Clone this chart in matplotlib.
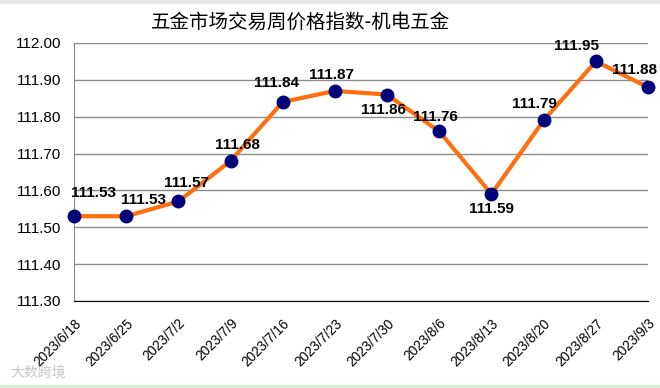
import matplotlib.pyplot as plt
from matplotlib.patches import Rectangle

# data
dates = ["2023/6/18", "2023/6/25", "2023/7/2", "2023/7/9", "2023/7/16", "2023/7/23",
         "2023/7/30", "2023/8/6", "2023/8/13", "2023/8/20", "2023/8/27", "2023/9/3"]
index_values = [111.53, 111.53, 111.57, 111.68, 111.84, 111.87,
                111.86, 111.76, 111.59, 111.79, 111.95, 111.88]
yticks = [111.30, 111.40, 111.50, 111.60, 111.70, 111.80, 111.90, 112.00]

# label offsets (pixels) for each point
label_offsets = [(20, 23), (17, 16), (8, 18), (7, 16), (-6, 19), (-3, 16),
                 (-4, -15), (-4, 14), (0, -15), (-9, 16), (-19, 15), (-14, 17)]

plt.rcParams['font.family'] = ['Liberation Sans', 'DejaVu Sans']

fig = plt.figure(figsize=(6.6, 3.88), dpi=100)
ax = fig.add_axes([74/660, 1 - 301/388, (648-74)/660, (301-43)/388])

x = list(range(len(dates)))
ax.plot(x, index_values, color='#ff6f0f', lw=3, zorder=3, clip_on=False,
        marker='o', markersize=9, markerfacecolor='#00007a', markeredgecolor='#00007a')

for i, v in enumerate(index_values):
    dx, dy = label_offsets[i]
    ax.annotate(f"{v:.2f}", (x[i], v), xytext=(dx, dy), textcoords='offset pixels',
                ha='center', va='center', fontsize=11, fontweight='bold', zorder=4)

ax.set_xlim(0, len(dates) - 1)
ax.set_ylim(111.30, 112.00)
ax.set_yticks(yticks)
ax.set_yticklabels([f"{t:.2f}" for t in yticks], fontsize=11)
ax.yaxis.grid(True, color='#8c8c8c', lw=1)
ax.set_axisbelow(True)
ax.tick_params(axis='y', length=0, pad=9)
ax.tick_params(axis='x', length=0, pad=11)
ax.set_xticks(x)
ax.set_xticklabels(dates, rotation=45, ha='right', rotation_mode='anchor', fontsize=9.8)

for s in ['top', 'right']:
    ax.spines[s].set_visible(False)
ax.spines['left'].set_color('#8c8c8c')
ax.spines['bottom'].set_color('black')

fig.text(301/660, 1 - 22/388, "五金市场交易周价格指数-机电五金", ha='center', va='center',
         fontsize=14, family=['Noto Sans CJK SC', 'DejaVu Sans'])

# frame bits of the screenshot
fig.patches.append(Rectangle((0, 1 - 3/388), 1, 3/388, transform=fig.transFigure,
                             color='#e6e8e6', zorder=0))
fig.patches.append(Rectangle((0, 0), 1, 3/388, transform=fig.transFigure,
                             color='#d8ecd8', zorder=0))
fig.text(10/660, 1 - 373/388, "大数跨境", fontsize=10, color='#c8c8c8',
         family=['Noto Sans CJK SC', 'DejaVu Sans'], va='center')

fig.savefig("out.png", dpi=100)
